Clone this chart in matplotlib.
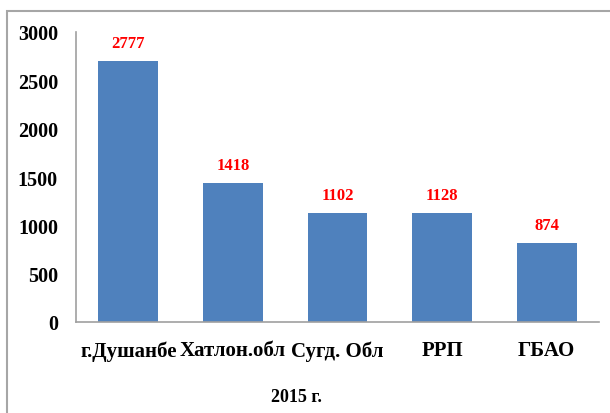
import matplotlib
matplotlib.use('Agg')
import matplotlib.pyplot as plt
from matplotlib.patches import Rectangle
import numpy as np

regions = ['г.Душанбе', 'Хатлон.обл', 'Сугд. Обл', 'РРП', 'ГБАО']
bar_heights = [2700, 1440, 1129, 1129, 817]
bar_labels = ['2777', '1418', '1102', '1128', '874']
yticks = [0, 500, 1000, 1500, 2000, 2500, 3000]
xlabel = '2015 г.'

plt.rcParams['font.family'] = ['Liberation Serif', 'DejaVu Serif']
plt.rcParams['font.weight'] = 'bold'

W, H = 610, 414
fig = plt.figure(figsize=(W / 100, H / 100), dpi=100)

# outer frame (cut at the right and bottom edges)
fig.patches.append(Rectangle((7 / W, -0.1), 1.2, 1 - 11.5 / H + 0.1,
                             transform=fig.transFigure, fill=False,
                             edgecolor='#a6a6a6', linewidth=1.5))

ax = fig.add_axes([76 / W, (H - 323) / H, 523 / W, (323 - 33) / H])
x = np.arange(len(regions))
ax.bar(x, bar_heights, width=0.57, color='#4f81bd')

for xi, h, lab in zip(x, bar_heights, bar_labels):
    ax.annotate(lab, (xi, h), xytext=(0, 13), textcoords='offset points',
                ha='center', va='center', color='red', fontsize=12,
                fontweight='bold')

ax.set_xlim(-0.5, len(regions) - 0.5)
ax.set_ylim(0, 3000)
ax.set_yticks(yticks)
ax.set_yticklabels([str(v) for v in yticks], fontsize=14.5, fontweight='bold')
ax.set_xticks(x)
ax.set_xticklabels(regions, fontsize=15, fontweight='bold')
ax.tick_params(axis='y', length=0, pad=13)
ax.tick_params(axis='x', length=0, pad=13)
fig.text(296 / W, 1 - 398 / H, xlabel, ha='center', va='center',
         fontsize=13, fontweight='bold')

for s in ['top', 'right']:
    ax.spines[s].set_visible(False)
for s in ['left', 'bottom']:
    ax.spines[s].set_color('#a0a0a0')
    ax.spines[s].set_linewidth(1.2)

fig.savefig('out.png', dpi=100)
